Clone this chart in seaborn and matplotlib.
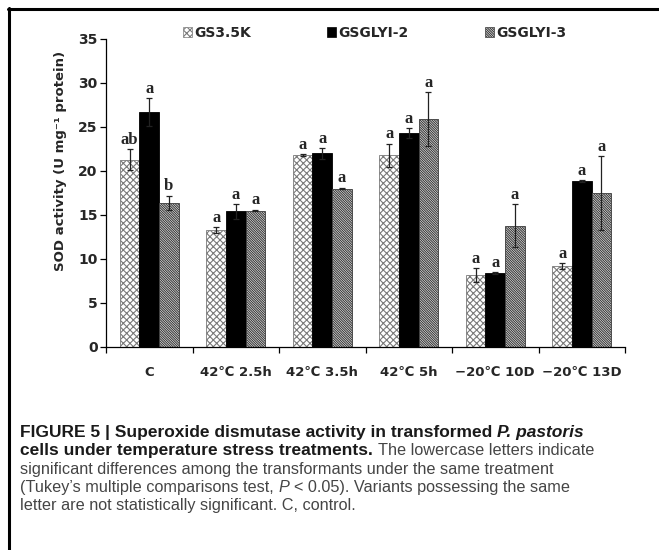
import matplotlib
matplotlib.use("Agg")
import numpy as np
import pandas as pd
import matplotlib.pyplot as plt
import seaborn as sns
from matplotlib.patches import Patch
from matplotlib.lines import Line2D

# data (means and error bar half-lengths)
treatments = ["C", "42\u2103 2.5h", "42\u2103 3.5h", "42\u2103 5h",
              "\u221220\u2103 10D", "\u221220\u2103 13D"]
strains = ["GS3.5K", "GSGLYI-2", "GSGLYI-3"]

gs35k_mean = [21.3, 13.3, 21.8, 21.8, 8.2, 9.2]
gs35k_err = [1.2, 0.3, 0.1, 1.3, 0.8, 0.3]
glyi2_mean = [26.7, 15.4, 22.0, 24.3, 8.4, 18.9]
glyi2_err = [1.6, 0.8, 0.6, 0.6, 0.1, 0.1]
glyi3_mean = [16.4, 15.5, 18.0, 25.9, 13.8, 17.5]
glyi3_err = [0.8, 0.1, 0.1, 3.1, 2.4, 4.2]

gs35k_letters = ["ab", "a", "a", "a", "a", "a"]
glyi2_letters = ["a", "a", "a", "a", "a", "a"]
glyi3_letters = ["b", "a", "a", "a", "a", "a"]

means = {"GS3.5K": gs35k_mean, "GSGLYI-2": glyi2_mean, "GSGLYI-3": glyi3_mean}
errs = {"GS3.5K": gs35k_err, "GSGLYI-2": glyi2_err, "GSGLYI-3": glyi3_err}
letters = {"GS3.5K": gs35k_letters, "GSGLYI-2": glyi2_letters,
           "GSGLYI-3": glyi3_letters}

df = pd.DataFrame({
    "treatment": treatments * 3,
    "strain": np.repeat(strains, len(treatments)),
    "sod": gs35k_mean + glyi2_mean + glyi3_mean,
})

sns.set_style("white")
plt.rcParams["font.family"] = ["DejaVu Sans"]
plt.rcParams["hatch.linewidth"] = 0.8

W, H = 659, 550
fig = plt.figure(figsize=(W / 100, H / 100), dpi=100)
ax = fig.add_axes([106 / W, 1 - 347 / H, (625 - 106) / W, (347 - 39) / H])

styles = {
    "GS3.5K": dict(face="white", edge="#7a7a7a", hatch="xxxxx"),
    "GSGLYI-2": dict(face="black", edge="black", hatch=""),
    "GSGLYI-3": dict(face="white", edge="#3a3a3a", hatch="\\" * 14),
}

sns.barplot(data=df, x="treatment", y="sod", hue="strain",
            order=treatments, hue_order=strains,
            palette=["white", "black", "white"], saturation=1,
            width=0.68, gap=0, errorbar=None, legend=False, ax=ax)

for container, strain in zip(ax.containers, strains):
    st = styles[strain]
    for bar, m, e, let in zip(container, means[strain], errs[strain],
                              letters[strain]):
        bar.set_facecolor(st["face"])
        bar.set_edgecolor(st["edge"])
        bar.set_hatch(st["hatch"])
        bar.set_linewidth(0.6)
        xc = bar.get_x() + bar.get_width() / 2
        ax.errorbar(xc, m, yerr=e, fmt="none", ecolor="#222222",
                    elinewidth=0.9, capsize=2, capthick=0.9)
        ax.text(xc, m + e + 0.6, let, ha="center", va="baseline",
                fontsize=12, fontweight="bold",
                family=["Liberation Serif", "DejaVu Serif"])

ax.set_ylim(0, 35)
ax.set_yticks(range(0, 36, 5))
ax.set_xlim(-0.5, len(treatments) - 0.5)
ax.set_xticks(np.arange(len(treatments)))
ax.set_xticks(np.arange(len(treatments) + 1) - 0.5, minor=True)
ax.tick_params(axis="x", which="major", length=0, pad=14, labelsize=9.5)
ax.tick_params(axis="x", which="minor", length=4, width=0.9,
               direction="out", color="black", bottom=True)
ax.tick_params(axis="y", length=4, width=0.9, direction="out",
               color="black", left=True, pad=2, labelsize=10)
for lab in ax.get_xticklabels() + ax.get_yticklabels():
    lab.set_fontweight("bold")
ax.set_xlabel("")
ax.set_ylabel("SOD activity (U mg\u207b\u00b9 protein)", fontsize=9.5,
              fontweight="bold")
ax.yaxis.set_label_coords(-0.075, 0.605)
for side in ["top", "right"]:
    ax.spines[side].set_visible(False)
for side in ["left", "bottom"]:
    ax.spines[side].set_color("black")
    ax.spines[side].set_linewidth(0.9)

handles = [Patch(facecolor=styles[s]["face"], edgecolor=styles[s]["edge"],
                 hatch=styles[s]["hatch"], linewidth=0.5) for s in strains]
leg = fig.legend(handles, strains, ncol=3, loc="center left",
                 bbox_to_anchor=(183 / W, 1 - 33 / H), frameon=False,
                 handlelength=0.65, handleheight=0.65, handletextpad=0.15,
                 columnspacing=5.5, borderpad=0, borderaxespad=0,
                 prop={"weight": "bold", "size": 10})

# frame around the figure panel (top and left edges)
fig.add_artist(Line2D([8 / W, 1], [1 - 9 / H, 1 - 9 / H],
                      transform=fig.transFigure, color="black", lw=2.2))
fig.add_artist(Line2D([9 / W, 9 / W], [0, 1 - 8 / H],
                      transform=fig.transFigure, color="black", lw=2.2))

# caption with mixed styles
renderer = fig.canvas.get_renderer()
cap_family = ["Liberation Sans", "DejaVu Sans"]
dark = "#1a1a1a"
grey = "#454545"
cap_lines = [
    [("FIGURE 5 | Superoxide dismutase activity in transformed", True, False),
     ("P. pastoris", True, True)],
    [("cells under temperature stress treatments.", True, False),
     ("The lowercase letters indicate", False, False)],
    [("significant differences among the transformants under "
      "the same treatment", False, False)],
    [("(Tukey\u2019s multiple comparisons test,", False, False),
     ("P", False, True),
     ("< 0.05). Variants possessing the same", False, False)],
    [("letter are not statistically significant. C, control.",
      False, False)],
]
cap_baselines = [437, 455, 474, 492, 510]


def text_width(s, size, **kw):
    t = fig.text(0, 0, s, fontsize=size, family=cap_family, **kw)
    w = t.get_window_extent(renderer).width
    t.remove()
    return w


# size the bold and regular faces to the line widths of the original
bold_size = 10 * 563 / text_width(
    "FIGURE 5 | Superoxide dismutase activity in transformed P. pastoris",
    10, fontweight="bold")
reg_measured = sum(text_width(" ".join(r[0] for r in cap_lines[i]), 10)
                   for i in (2, 3, 4))
reg_size = 10 * (487 + 583 + 345) / reg_measured


def caption_line(y_px, runs):
    x = 20
    for s, bold, italic in runs:
        size = bold_size if bold else reg_size
        kw = dict(fontweight="bold" if bold else "normal",
                  fontstyle="italic" if italic else "normal")
        t = fig.text(x / W, 1 - y_px / H, s, fontsize=size,
                     family=cap_family, va="baseline", ha="left",
                     color=dark if bold else grey, **kw)
        x += t.get_window_extent(renderer).width
        x += text_width("| |", size, **kw) - text_width("||", size, **kw)


for y_px, runs in zip(cap_baselines, cap_lines):
    caption_line(y_px, runs)

fig.savefig("out.png", dpi=100)
